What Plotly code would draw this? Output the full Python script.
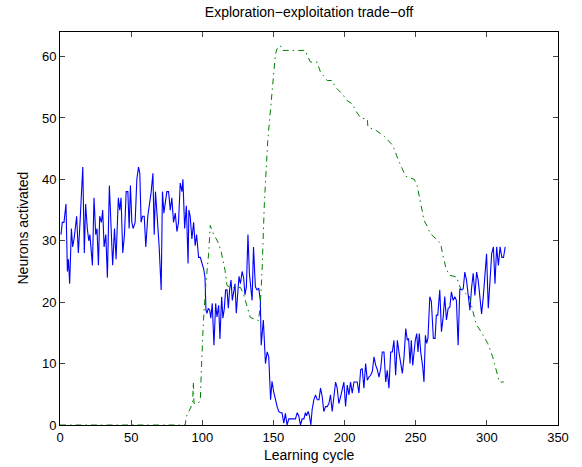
import plotly.graph_objects as go

# Blue series: neurons activated per learning cycle
blue_x = [0.7,1.6,2.8,4.2,5.2,5.9,6.8,8,8.9,10,11.7,12.9,14.3,15.3,16,17.1,18,19.2,20.2,21,22.8,23.9,25.1,26,27,27.9,29.1,30,31,32.2,33.3,34.7,35.9,37,38.3,39.4,41,42,42.9,44.1,45.3,46.5,47.7,48.6,49.5,50.5,51.4,52.8,54,55.2,56.1,57,58,59.2,60.3,61.7,64.1,65.3,66.2,67.1,68.3,69.7,71.1,72,73,
          75.1,76.3,77.5,78.6,79.8,81,82.2,83.3,84.5,85.7,86.4,87.6,88.8,90,90.6,91.5,92.7,93.9,95,96,97.4,98.6,99.8,101,
          101.9,102.6,103.3,104.2,105.2,106,107,108.2,109.4,110.3,111.5,112.4,113.6,114.5,115.5,116.4,117.4,118.3,119.2,120.2,121.1,122,123,123.9,124.9,125.8,126.8,128,129.1,130,131,132.1,133.1,134,135,136,137.3,138.5,139.7,140.8,141.4,142.9,144.4,145.6,146.7,148,149,150.2,151.4,152.6,153.7,154.9,156,157.3,158.4,159.6,160.8,162,163.1,164.3,165.5,166.7,167.8,169,170.2,171.4,172.5,173.2,174.4,175.3,176.3,177.2,178.4,179.6,180.8,182,183.1,184.3,185.4,186.6,187.8,189,190.1,191.3,192.5,193.7,194.8,196,197.2,198.4,199.5,200.7,201.9,203.1,204.2,205.4,206.6,207.7,208.9,210.1,211.3,212.4,213.6,214.8,216,217.1,218.3,219.5,220.7,221.8,223,224.2,225.4,226.5,227.7,228.9,230,231.2,232.4,233.6,234.7,235.9,237.1,238.2,239.4,240.6,241.8,243,244.1,245,246,246.9,247.9,248.8,249.7,250.7,251.6,252.5,253.5,254.9,255.8,256.8,257.7,258.6,259.9,261,262.4,263.6,264.5,265.5,266.9,268.1,269.3,270.4,271.6,272.8,274,275.1,276.3,277.5,278.6,279.8,281,282.2,283.4,284.5,285.7,286.9,288.1,289.2,290.4,291.6,292.8,293.9,295.1,296.3,297.5,298.7,299.8,301,302.2,303.4,304.6,305.7,306.9,308.1,309.3,310.5,311.7,312.9]
blue_y = [31,33,33,36,25,27,23,32,29,30.5,34,28,34,40,42,28,36,32,30,31,26,37,31,32,26,34,33,35,29,31,24,39,32,26,32,27,37,35,37,28,31,38,38,32,39,33,32,33,40,42,41,33,34,34,29,34,38,41,31,38,34,29,22,38,34.5,
          38,38,35,37,33,34.5,31.5,33,39.4,38,40,32,35.7,26.3,35,34,30.3,33,29.2,31,27.3,27.3,26.5,25.4,
          24,18.7,18.2,19,18.7,17.4,19.8,13,19.8,17.6,19.5,14,20.9,17.4,19,22,22,19,22,23.6,20.3,22,23,18.2,22.5,24.2,23,25,23.9,21.2,22.5,31,24.7,22.3,20.3,29,22.5,22,22.3,20.3,13,17.1,10,11.9,11.1,4.1,7.1,5.4,4.1,3,2.2,2,2,0.3,1.9,0,1,1,1,1,1,2,1.5,0,1,1,2,1.5,2.2,1.5,0,2.5,4.1,4.9,4.1,4.1,6,4.6,2.2,3,3,3.5,4.9,2.2,4.6,7,6,3.5,4.6,5.7,7,3,6.5,4.9,7,5.2,7,7,7,5.2,9,9.2,6,10,7.3,7.8,8.1,8.7,11.1,9.8,9,7.8,9.2,11.9,11.9,7,8.9,6,11.9,11.9,13.8,8.1,13.8,11.9,10,8.4,11.1,15.7,13.8,14.1,10,13.8,9.7,12.2,13.8,14.9,11.9,14.9,11.9,9.5,7,14.6,13.3,14.1,20.9,20.1,14.1,14.1,17.9,17.9,22,15.2,17.6,20.9,17.1,19,19.2,21.7,20.3,20.9,20.3,13,22.2,22,22.2,24.9,23.6,21.1,18.7,22.2,24.7,21.1,24.9,23.6,21.1,18.1,20.9,24.4,27.9,19,22.8,27.9,29,23,29,26,29,27.3,27.3,29]

# Green dash-dot series
green_x = [0,88,88.7,90,91.5,93.2,93.7,94.2,97,98.6,99.2,100.7,102.5,104.5,105.6,107,111,113,116,117.4,119.6,126.8,129,131.4,133.8,139.6,140.8,142,143.6,146,148,149.8,151.4,152.6,155,156.1,172.5,173.7,176,180.7,183,187.8,191.3,193.7,198.4,201.9,205.4,207.8,211.3,216,216.4,222,228,234,238,243,249,251,253.5,255.9,258.2,260.1,265.3,267.6,268.8,271.1,273.5,278.9,279.8,281.7,285.2,287.6,290,292.3,295.9,300.6,304.1,306.4,308.8,311.9]
green_y = [0,0,1.3,2,2.5,3.5,7,3.5,3.5,4,8,16.5,23,28,32.5,31.5,29.8,28.5,25.2,22.7,22.4,22.4,21.3,19.2,17.5,17,19.7,25,36,46.3,51.8,57.2,60.4,61.3,61.8,61,61,60.2,59.1,59.1,57.5,56.1,56.1,55,53.9,52.8,52.3,51.2,50,49.8,48.5,48,47,45.5,43,40.5,40,39,35.8,33.3,32.3,31.2,30.1,29.5,27.9,25.7,24.4,24.1,23.3,22.2,21.4,21.1,18.7,16.5,15.2,13.3,11.1,9.2,7,7]

x_ticks = [0, 50, 100, 150, 200, 250, 300, 350]
y_ticks = [0, 10, 20, 30, 40, 50, 60]

fig = go.Figure()
fig.add_trace(go.Scatter(x=blue_x, y=blue_y, mode="lines",
                         line=dict(color="#0000ff", width=1.1), showlegend=False))
fig.add_trace(go.Scatter(x=green_x, y=green_y, mode="lines",
                         line=dict(color="#008000", width=1, dash="6px,4px,1.5px,4px"),
                         showlegend=False))

font = "Liberation Sans, Arial, Helvetica, sans-serif"
fig.update_layout(
    width=582, height=467,
    margin=dict(l=60, r=24, t=32, b=42, autoexpand=False),
    paper_bgcolor="white", plot_bgcolor="white",
    font=dict(family=font, size=13, color="black"),
    title=dict(text="Exploration\u2212exploitation trade\u2212off", x=0.5, xanchor="center",
               xref="paper", y=1 - 12 / 467, yanchor="middle", font=dict(size=14)),
    xaxis=dict(range=[0, 350], tickvals=x_ticks, ticks="inside", ticklen=5,
               showline=True, linecolor="black", linewidth=1, mirror="ticks",
               showgrid=False, zeroline=False, automargin=False),
    yaxis=dict(range=[0, 64], tickvals=y_ticks, ticks="inside", ticklen=5,
               showline=True, linecolor="black", linewidth=1, mirror="ticks",
               showgrid=False, zeroline=False, automargin=False),
    annotations=[
        dict(text="Learning cycle", xref="paper", yref="paper", x=0.5, y=-30 / 393,
             xanchor="center", yanchor="middle", showarrow=False, font=dict(size=14)),
        dict(text="Neurons activated", xref="paper", yref="paper", x=-38 / 498, y=0.5,
             xanchor="center", yanchor="middle", textangle=-90, showarrow=False,
             font=dict(size=14)),
    ],
)

fig.write_html("out.html")
